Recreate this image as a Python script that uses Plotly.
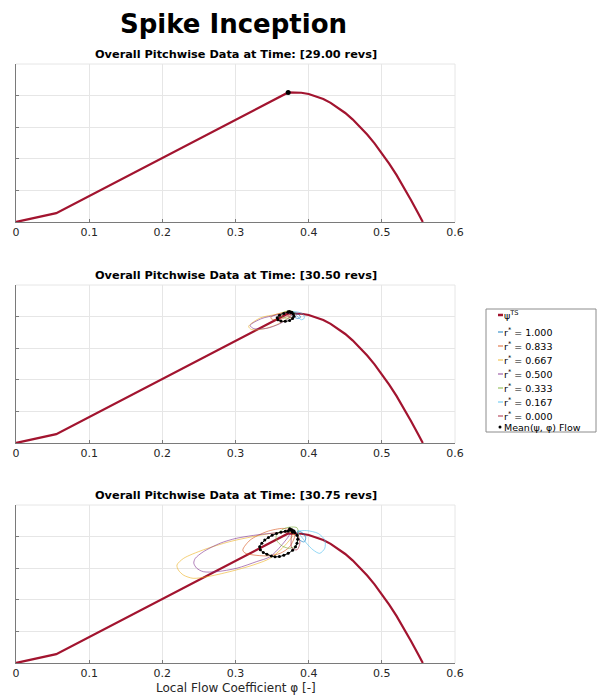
import plotly.graph_objects as go

W, H = 598, 700
FIG_H = 696  # slightly shorter than the window so no scrollbar appears

# ---------------- data ----------------
PHI_TS = [0.0, 0.055, 0.372, 0.38, 0.39, 0.40, 0.41, 0.42, 0.43, 0.44, 0.45, 0.46, 0.47, 0.48, 0.49,
          0.50, 0.51, 0.52, 0.53, 0.54, 0.55, 0.556]
PSI_TS = [0.0, 0.028, 0.410, 0.410, 0.409, 0.405, 0.398, 0.389, 0.377, 0.362, 0.345, 0.325, 0.302, 0.277, 0.249,
          0.218, 0.185, 0.149, 0.111, 0.069, 0.026, 0.0]

R_LABELS = ["1.000", "0.833", "0.667", "0.500", "0.333", "0.167", "0.000"]
R_COLORS = ["#0072BD", "#D95319", "#EDB120", "#7E2F8E", "#77AC30", "#4DBEEE", "#A2142F"]

TIMES = ["29.00", "30.50", "30.75"]

# mean flow trajectories
MEAN_PHI_1 = [0.372]
MEAN_PSI_1 = [0.410]

MEAN_PHI_2 = [0.372, 0.366, 0.360, 0.357, 0.358, 0.362, 0.368, 0.374, 0.378, 0.380, 0.379, 0.376, 0.372, 0.374, 0.377]
MEAN_PSI_2 = [0.414, 0.410, 0.404, 0.396, 0.390, 0.386, 0.385, 0.388, 0.394, 0.401, 0.408, 0.413, 0.415, 0.416, 0.414]

MEAN_PHI_3 = [0.374, 0.368, 0.362, 0.356, 0.350, 0.345, 0.340, 0.336, 0.333, 0.334, 0.338, 0.343, 0.349, 0.354,
              0.360, 0.366, 0.372, 0.378, 0.382, 0.384, 0.385, 0.384, 0.381, 0.378, 0.375, 0.372, 0.374, 0.377,
              0.380, 0.378, 0.376]
MEAN_PSI_3 = [0.421, 0.417, 0.414, 0.410, 0.404, 0.397, 0.389, 0.379, 0.368, 0.358, 0.350, 0.344, 0.339, 0.336,
              0.337, 0.341, 0.347, 0.357, 0.368, 0.379, 0.392, 0.404, 0.413, 0.419, 0.423, 0.418, 0.425, 0.422,
              0.418, 0.414, 0.420]

# radial-station trajectories, panel 2 (30.50 revs), order as R_LABELS
LOOPS_PHI_2 = [
    [0.372, 0.380, 0.386, 0.389, 0.385, 0.378, 0.372],
    [0.360, 0.352, 0.348, 0.352, 0.362, 0.372, 0.378, 0.372, 0.360],
    [0.374, 0.356, 0.334, 0.318, 0.322, 0.338, 0.356, 0.370, 0.378, 0.374],
    [0.372, 0.354, 0.336, 0.320, 0.325, 0.343, 0.360, 0.372, 0.377, 0.372],
    [0.368, 0.362, 0.364, 0.372, 0.380, 0.381, 0.375, 0.368],
    [0.378, 0.386, 0.393, 0.394, 0.390, 0.384, 0.378],
    [0.374, 0.377, 0.379, 0.376, 0.372, 0.371, 0.374],
]
LOOPS_PSI_2 = [
    [0.414, 0.413, 0.407, 0.398, 0.394, 0.402, 0.414],
    [0.410, 0.404, 0.396, 0.390, 0.392, 0.402, 0.411, 0.415, 0.410],
    [0.416, 0.407, 0.396, 0.369, 0.359, 0.361, 0.374, 0.392, 0.410, 0.416],
    [0.414, 0.404, 0.394, 0.372, 0.362, 0.363, 0.377, 0.394, 0.409, 0.414],
    [0.416, 0.408, 0.398, 0.395, 0.401, 0.412, 0.418, 0.416],
    [0.415, 0.414, 0.406, 0.395, 0.390, 0.402, 0.415],
    [0.416, 0.410, 0.400, 0.396, 0.402, 0.410, 0.416],
]

# radial-station trajectories, panel 3 (30.75 revs)
LOOPS_PHI_3 = [
    [0.385, 0.392, 0.396, 0.394, 0.388, 0.385, 0.385],
    [0.365, 0.343, 0.320, 0.310, 0.313, 0.324, 0.343, 0.361, 0.374, 0.381, 0.374, 0.365],
    [0.379, 0.356, 0.324, 0.292, 0.256, 0.229, 0.220, 0.222, 0.229, 0.242, 0.261, 0.292, 0.324, 0.347, 0.368, 0.379],
    [0.374, 0.347, 0.302, 0.279, 0.256, 0.245, 0.243, 0.247, 0.256, 0.274, 0.302, 0.329, 0.347, 0.362, 0.374],
    [0.384, 0.368, 0.356, 0.356, 0.364, 0.374, 0.383, 0.386, 0.384],
    [0.388, 0.397, 0.413, 0.422, 0.422, 0.415, 0.406, 0.397, 0.390, 0.385, 0.388],
    [0.379, 0.385, 0.388, 0.384, 0.377, 0.376, 0.377, 0.379],
]
LOOPS_PSI_3 = [
    [0.418, 0.411, 0.396, 0.383, 0.389, 0.405, 0.418],
    [0.426, 0.416, 0.389, 0.358, 0.348, 0.342, 0.339, 0.347, 0.368, 0.405, 0.421, 0.426],
    [0.410, 0.412, 0.400, 0.384, 0.358, 0.331, 0.310, 0.294, 0.278, 0.268, 0.273, 0.289, 0.310, 0.331, 0.373, 0.410],
    [0.411, 0.410, 0.395, 0.379, 0.352, 0.331, 0.316, 0.300, 0.289, 0.289, 0.300, 0.321, 0.336, 0.370, 0.411],
    [0.428, 0.427, 0.405, 0.389, 0.370, 0.363, 0.373, 0.405, 0.428],
    [0.418, 0.419, 0.410, 0.389, 0.363, 0.347, 0.358, 0.379, 0.400, 0.415, 0.418],
    [0.418, 0.405, 0.380, 0.358, 0.364, 0.389, 0.411, 0.418],
]

# ---------------- layout helpers ----------------
X0, X1 = 16, 455
PANELS = [(64, 222), (285, 443), (505, 663)]  # pixel top/bottom of each plot area


def px_x(p):
    return p / W


def px_y(p):
    return 1 - p / FIG_H


def rgba(hex_color, a):
    h = hex_color.lstrip("#")
    r, g, b = int(h[0:2], 16), int(h[2:4], 16), int(h[4:6], 16)
    return f"rgba({r},{g},{b},{a})"


FONT = "DejaVu Sans, Liberation Sans, sans-serif"
fig = go.Figure()

loops_phi = [None, LOOPS_PHI_2, LOOPS_PHI_3]
loops_psi = [None, LOOPS_PSI_2, LOOPS_PSI_3]
means = [(MEAN_PHI_1, MEAN_PSI_1), (MEAN_PHI_2, MEAN_PSI_2), (MEAN_PHI_3, MEAN_PSI_3)]

for i in range(3):
    sfx = "" if i == 0 else str(i + 1)
    xa, ya = "x" + sfx, "y" + sfx
    fig.add_trace(go.Scatter(x=PHI_TS, y=PSI_TS, mode="lines", xaxis=xa, yaxis=ya,
                             line=dict(color="#A2142F", width=2.2), name="ψ<sup>TS</sup>",
                             showlegend=False))
    if loops_phi[i] is not None:
        for k in range(len(R_LABELS)):
            fig.add_trace(go.Scatter(x=loops_phi[i][k], y=loops_psi[i][k], mode="lines",
                                     xaxis=xa, yaxis=ya, line=dict(color=rgba(R_COLORS[k], 0.6), width=1,
                                                                  shape="spline", smoothing=0.8),
                                     name="r* = " + R_LABELS[k], showlegend=False))
    mx, my = means[i]
    fig.add_trace(go.Scatter(x=mx, y=my, mode="lines+markers" if len(mx) > 1 else "markers",
                             xaxis=xa, yaxis=ya, line=dict(color="black", width=1, shape="spline"),
                             marker=dict(color="black", size=3 if len(mx) > 1 else 5),
                             name="Mean(ψ, φ) Flow", showlegend=False))

    top, bot = PANELS[i]
    axis_common = dict(showgrid=True, gridcolor="#e6e6e6", gridwidth=1, zeroline=False,
                       showline=True, linecolor="#7a7a7a", linewidth=1, ticks="inside",
                       ticklen=3, tickcolor="#7a7a7a", mirror=False, automargin=False)
    fig.layout["xaxis" + sfx] = dict(domain=[px_x(X0), px_x(X1)], anchor=ya, range=[0, 0.6],
                                     tickvals=[0, 0.1, 0.2, 0.3, 0.4, 0.5, 0.6],
                                     ticktext=["0", "0.1", "0.2", "0.3", "0.4", "0.5", "0.6"],
                                     tickfont=dict(family=FONT, size=11, color="#262626"),
                                     **axis_common)
    fig.layout["yaxis" + sfx] = dict(domain=[px_y(bot), px_y(top)], anchor=xa, range=[0, 0.5],
                                     tickvals=[0, 0.1, 0.2, 0.3, 0.4, 0.5], showticklabels=False,
                                     **axis_common)
    fig.add_annotation(text="<b>Overall Pitchwise Data at Time: [" + TIMES[i] + " revs]</b>",
                       xref="paper", yref="paper", x=px_x((X0 + X1) / 2), y=px_y(top - 1),
                       xanchor="center", yanchor="bottom", showarrow=False,
                       font=dict(family=FONT, size=11.3, color="black"))
    # light box top/right edges
    fig.add_shape(type="line", xref="paper", yref="paper", x0=px_x(X0), x1=px_x(X1),
                  y0=px_y(top), y1=px_y(top), line=dict(color="#e6e6e6", width=1), layer="below")
    fig.add_shape(type="line", xref="paper", yref="paper", x0=px_x(X1), x1=px_x(X1),
                  y0=px_y(bot), y1=px_y(top), line=dict(color="#e6e6e6", width=1), layer="below")

fig.add_annotation(text="Local Flow Coefficient φ [-]", xref="paper", yref="paper",
                   x=px_x((X0 + X1) / 2), y=px_y(688), xanchor="center", yanchor="middle",
                   showarrow=False, font=dict(family=FONT, size=12, color="#262626"))

fig.add_annotation(text="<b>Spike Inception</b>", xref="paper", yref="paper",
                   x=px_x(233), y=px_y(24), xanchor="center", yanchor="middle", showarrow=False,
                   font=dict(family=FONT, size=26, color="black"))

# ---------------- legend box (drawn) ----------------
LX0, LX1, LY0, LY1 = 486, 596, 309, 432
fig.add_shape(type="rect", xref="paper", yref="paper", x0=px_x(LX0), x1=px_x(LX1),
              y0=px_y(LY1), y1=px_y(LY0), line=dict(color="#8c8c8c", width=1), fillcolor="white")
entries = ["ψ<sup>TS</sup>"] + ["r<sup>*</sup> = " + r for r in R_LABELS] + ["Mean(ψ, φ) Flow"]
colors = ["#A2142F"] + [rgba(c, 0.6) for c in R_COLORS] + ["black"]
ycent = [315, 332, 346, 360, 374, 388, 402, 416, 427]
for j, (txt, col, yc) in enumerate(zip(entries, colors, ycent)):
    if j == len(entries) - 1:
        fig.add_shape(type="circle", xref="paper", yref="paper", x0=px_x(498.5), x1=px_x(501.5),
                      y0=px_y(yc + 1.5), y1=px_y(yc - 1.5), fillcolor="black", line=dict(width=0))
    else:
        fig.add_shape(type="line", xref="paper", yref="paper", x0=px_x(498), x1=px_x(503),
                      y0=px_y(yc), y1=px_y(yc), line=dict(color=col, width=2.5 if j == 0 else 1.5))
    fig.add_annotation(text=txt, xref="paper", yref="paper", x=px_x(502), y=px_y(yc),
                       xanchor="left", yanchor="middle", showarrow=False,
                       font=dict(family=FONT, size=9.5, color="black"))

fig.update_layout(width=W, height=FIG_H, margin=dict(l=0, r=0, t=0, b=0, autoexpand=False),
                  paper_bgcolor="white", plot_bgcolor="white", showlegend=False,
                  font=dict(family=FONT))

fig.write_html("out.html")
